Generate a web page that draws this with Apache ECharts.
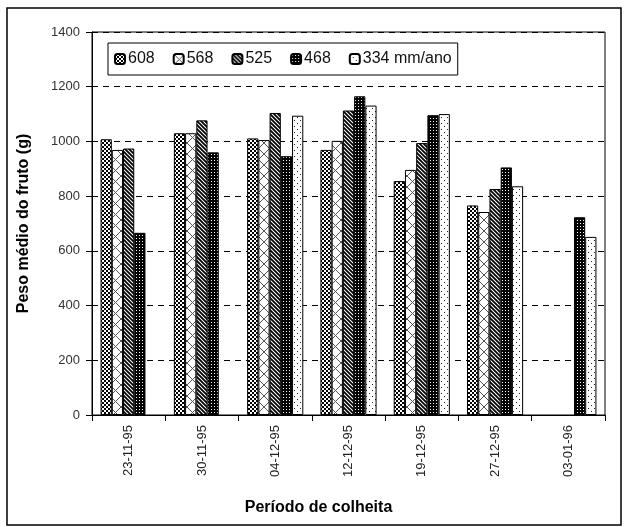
<!DOCTYPE html>
<html>
<head>
<meta charset="utf-8">
<script src="https://cdn.jsdelivr.net/npm/echarts@6/dist/echarts.min.js"></script>
<style>
html,body{margin:0;padding:0;background:#fff;}
#c{width:627px;height:527px;}
</style>
</head>
<body>
<div id="c"></div>
<script>
const categories = ['23-11-95','30-11-95','04-12-95','12-12-95','19-12-95','27-12-95','03-01-96'];
const seriesNames = ['608','568','525','468','334 mm/ano'];
const s608 = [1008, 1030, 1011, 969, 855, 766, null];
const s568 = [969, 1030, 1005, 1002, 896, 742, null];
const s525 = [974, 1077, 1104, 1113, 994, 826, null];
const s468 = [666, 960, 946, 1165, 1096, 905, 723];
const s334 = [null, null, 1094, 1131, 1100, 836, 651];
const yTicks = [0, 200, 400, 600, 800, 1000, 1200, 1400];

function pat(w, h, draw) {
  const c = document.createElement('canvas');
  c.width = w; c.height = h;
  const x = c.getContext('2d');
  x.fillStyle = '#fff'; x.fillRect(0, 0, w, h);
  x.fillStyle = '#000'; x.strokeStyle = '#000';
  draw(x);
  return { image: c, repeat: 'repeat' };
}
const p608 = pat(4, 4, x => { x.fillRect(0,0,2,2); x.fillRect(2,2,2,2); });
const p568 = pat(11, 11, x => {
  x.strokeStyle = '#555'; x.lineWidth = 1;
  x.beginPath(); x.moveTo(0,0); x.lineTo(11,11); x.moveTo(11,0); x.lineTo(0,11); x.stroke();
});
const p525 = pat(4, 4, x => {
  x.lineWidth = 1.8;
  x.beginPath();
  x.moveTo(-1,-1); x.lineTo(5,5);
  x.moveTo(-3,1); x.lineTo(1,5);
  x.moveTo(1,-3); x.lineTo(5,1);
  x.stroke();
});
const p468 = pat(3, 3, x => { x.fillRect(0,0,3,3); x.fillStyle='#fff'; x.fillRect(1,1,1,1); });
const p334 = pat(6, 6, x => { x.fillStyle='#222'; x.fillRect(0,0,1,1); x.fillRect(3,3,1,1); });
const patterns = [p608, p568, p525, p468, p334];
const dataSets = [s608, s568, s525, s468, s334];

const chart = echarts.init(document.getElementById('c'), null, {renderer: 'canvas'});
const series = seriesNames.map((n, i) => ({
  name: n,
  type: 'bar',
  data: dataSets[i],
  barGap: '0%',
  barCategoryGap: '23.4%',
  itemStyle: { color: patterns[i], borderColor: '#000', borderWidth: 1 },
  emphasis: { disabled: true }
}));

chart.setOption({
  backgroundColor: '#fff',
  animation: false,
  textStyle: { fontFamily: 'Arial, "Liberation Sans", sans-serif' },
  graphic: [{
    type: 'rect', shape: { x: 7, y: 8, width: 614, height: 517 },
    style: { fill: 'none', stroke: '#000', lineWidth: 1.5 }, z: -1
  }],
  legend: {
    left: 108, top: 43,
    orient: 'horizontal',
    data: seriesNames,
    itemWidth: 10, itemHeight: 10,
    itemGap: 18,
    padding: [8, 6, 8, 6],
    borderColor: '#000', borderWidth: 1,
    backgroundColor: '#fff',
    textStyle: { fontSize: 16, color: '#111', padding: [0, 0, 0, -2] },
    selectedMode: false
  },
  grid: {
    left: 92, right: 22, top: 32, bottom: 112,
    show: true, borderColor: '#000', borderWidth: 1, backgroundColor: 'transparent'
  },
  xAxis: {
    type: 'category',
    data: categories,
    name: 'Período de colheita',
    nameLocation: 'middle',
    nameGap: 85,
    nameTextStyle: { fontSize: 16, fontWeight: 'bold', color: '#000', padding: [0, 60, 0, 0] },
    axisLine: { lineStyle: { color: '#000', width: 1 } },
    axisTick: { show: true, length: 6, lineStyle: { color: '#000' } },
    axisLabel: { rotate: 90, fontSize: 13, color: '#222', margin: 10 },
    splitLine: { show: false }
  },
  yAxis: {
    type: 'value',
    min: yTicks[0], max: yTicks[yTicks.length - 1], interval: 200,
    name: 'Peso médio do fruto (g)',
    nameLocation: 'middle',
    nameGap: 60,
    nameTextStyle: { fontSize: 16, fontWeight: 'bold', color: '#000' },
    axisLine: { show: true, lineStyle: { color: '#000', width: 1 } },
    axisTick: { show: true, length: 6, lineStyle: { color: '#000' } },
    axisLabel: { fontSize: 13, color: '#333', margin: 12, formatter: v => String(v) },
    splitLine: { show: true, lineStyle: { color: '#000', type: [6, 5], width: 1 } }
  },
  series: series
});
</script>
</body>
</html>
